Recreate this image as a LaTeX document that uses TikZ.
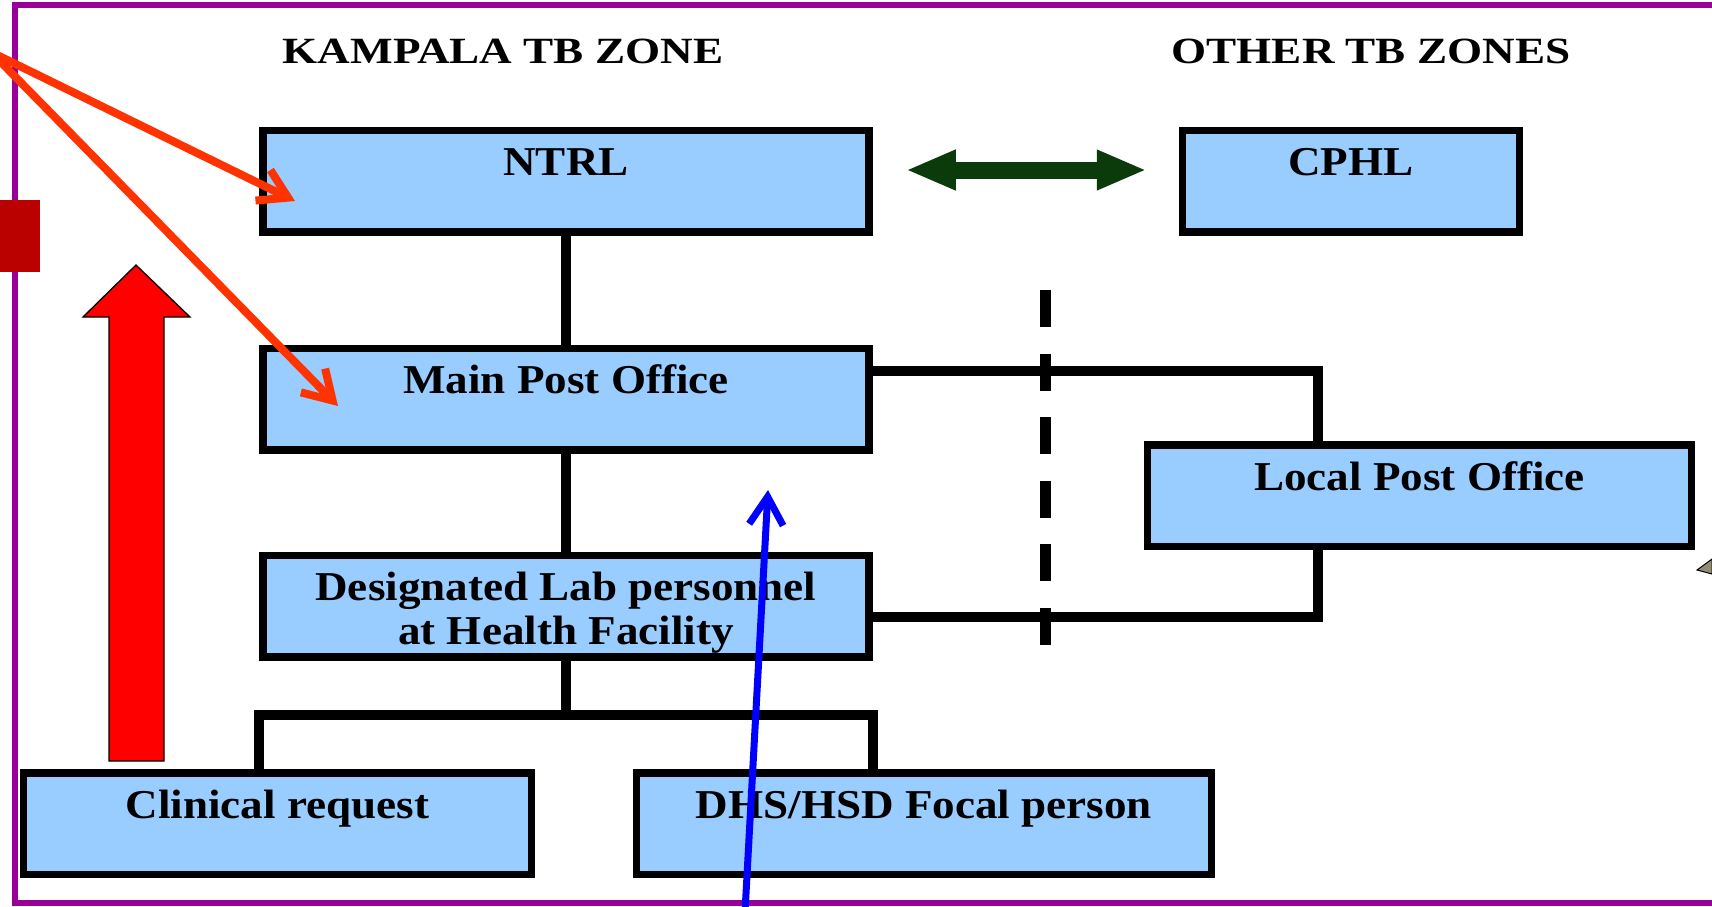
\documentclass[tikz,border=0pt]{standalone}
\usepackage{fontspec}
\setmainfont{Liberation Serif}
\newfontfamily\boxfont[FakeStretch=1.1]{Liberation Serif}
\newfontfamily\headfont[FakeStretch=1.22]{Liberation Serif}
\usetikzlibrary{arrows.meta}
\definecolor{boxblue}{HTML}{99CCFF}
\definecolor{framepurple}{HTML}{990099}
\definecolor{darkred}{HTML}{BB0000}
\definecolor{arrowgreen}{HTML}{0B3B0B}
\definecolor{pointorange}{HTML}{FF3300}

\begin{document}
\begin{tikzpicture}[x=1pt,y=-1pt,
	box/.style={draw, line width=7.5pt, fill=boxblue, inner sep=0pt, text height=45.5pt, text depth=56pt, align=center, font=\boxfont\bfseries\fontsize{41}{44}\selectfont},
	link/.style={line width=10pt},
	pointer/.style={line width=8pt, line cap=round, -{Straight Barb[length=28pt,width=34pt]}},
	zonehead/.style={anchor=base, font=\headfont\bfseries\fontsize{37}{40}\selectfont}]
	
	\useasboundingbox (0,0) rectangle (1712,906);
	
	\draw[framepurple, line width=6.5pt] (1712,5) -- (15,5) -- (15,903) -- (1712,903);
	\fill[darkred] (0,200) rectangle (40,272);
	
	\node[zonehead] (kampala) at (503,63) {KAMPALA TB ZONE};
	\node[zonehead] (other) at (1371,63) {OTHER TB ZONES};
	
	\node[box, minimum width=606pt] (ntrl) at (566,181) {NTRL};
	\node[box, minimum width=337pt] (cphl) at (1351,181) {CPHL};
	\node[box, minimum width=606pt] (mainpo) at (566,399) {Main Post Office};
	\node[box, minimum width=544pt] (localpo) at (1419.5,495.5) {Local Post Office};
	\node[box, minimum width=606pt, text height=89.5pt, text depth=12pt] (labhf) at (566,606) {Designated Lab personnel\\at Health Facility};
	\node[box, minimum width=508pt] (clinreq) at (277.5,823.5) {Clinical request};
	\node[box, minimum width=575pt] (dhsfp) at (924,823.5) {DHS/HSD Focal person};
	
	\coordinate (split) at (566,715);
	\coordinate (postjoin) at (1318,371);
	\coordinate (labjoin) at (1318,617);
	\draw[link] (ntrl) -- (mainpo);
	\draw[link] (mainpo) -- (labhf);
	\draw[link] (labhf) -- (split);
	\draw[link] (clinreq.north -| labhf.west) |- (split) -| (dhsfp.north -| labhf.east);
	\draw[link] (mainpo.east |- postjoin) -| (localpo.north -| postjoin);
	\draw[link] (localpo.south -| labjoin) |- (labhf.east |- labjoin);
	
	% zone divider
	\coordinate (divtop) at (1045,290);
	\coordinate (divbot) at (1045,645);
	\draw[line width=11pt, dash pattern=on 37pt off 26.5pt] (divtop) -- (divbot);
	
	\draw[arrowgreen, line width=17pt, {Triangle[length=50pt,width=37pt]}-{Triangle[length=50pt,width=37pt]}] ([shift={(33,-11)}]ntrl.east) -- ([shift={(-32,-11)}]cphl.west);
	
	\filldraw[fill=red, draw=black, line width=1.3pt] (109,761) -- (109,317) -- (83,317) -- (136,265) -- (190,317) -- (164,317) -- (164,761) -- cycle;
	
	\filldraw[fill=gray!80!olive, draw=black, line width=1pt] (1697,570) -- (1712,559) -- (1712,574) -- cycle;
	
	\coordinate (origin) at (-9,52);
	\coordinate (ntrlpt) at (295,201);
	\coordinate (mainpt) at (338,406);
	\draw[pointer, pointorange] (origin) -- (ntrlpt);
	\draw[pointer, pointorange] (origin) -- (mainpt);
	
	\coordinate (bluefoot) at (745,912);
	\coordinate (bluetip) at (768,490);
	\draw[pointer, blue, line width=7pt] (bluefoot) -- (bluetip);
	
\end{tikzpicture}
\end{document}
